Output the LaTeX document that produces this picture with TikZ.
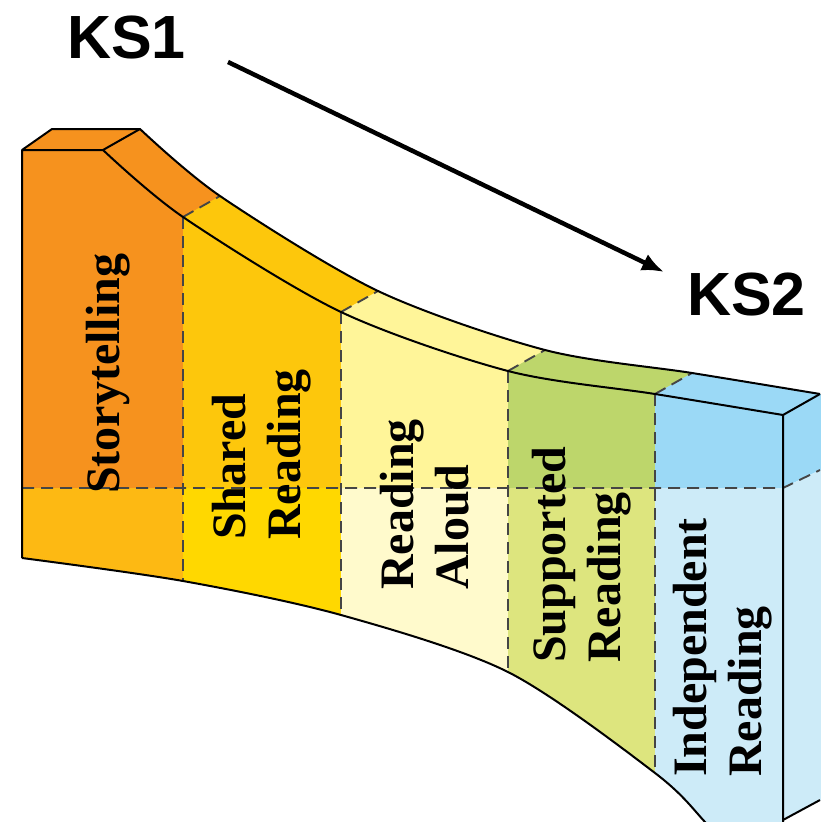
\documentclass[tikz,border=0pt]{standalone}
\usepackage{fontspec}
\setmainfont{Liberation Serif}
\newfontfamily\ksfont{Liberation Sans}
\usetikzlibrary{arrows.meta}
\definecolor{stA}{HTML}{F6921E}
\definecolor{stB}{HTML}{FDB913}
\definecolor{shA}{HTML}{FDC70C}
\definecolor{shB}{HTML}{FFD800}
\definecolor{raA}{HTML}{FFF599}
\definecolor{raB}{HTML}{FFFACC}
\definecolor{suA}{HTML}{BDD66B}
\definecolor{suB}{HTML}{DDE57E}
\definecolor{inA}{HTML}{9BD9F6}
\definecolor{inB}{HTML}{CDEBF8}
\definecolor{dashgray}{HTML}{454545}
\begin{document}
\begin{tikzpicture}[x=1pt,y=-1pt,
  edge/.style={line width=2pt,black,line join=round},
  divline/.style={line width=1.9pt,dashgray,dash pattern=on 12pt off 7pt},
  lab/.style={rotate=90,anchor=north west,inner sep=0pt,align=left,
    font=\fontsize{48}{55}\selectfont\bfseries},
  kslab/.style={anchor=base west,inner sep=0pt,
    font=\ksfont\fontsize{61}{61}\selectfont\bfseries}]
\useasboundingbox (0,0) rectangle (821,822);
\clip (0,0) rectangle (821,822);
\def\frontpath{(22,150) -- (103,150) -- plot[smooth] coordinates {(103,150) (183,217) (341,312) (508,371) (655,394) (783,415)} -- (783,870) -- (745,870) -- plot[smooth] coordinates {(745,870) (705,822) (655,773) (508,672) (341,615) (183,581) (22,558)} -- cycle}
\def\toppath{(22,150) -- (52,129) -- (140,129) -- plot[smooth] coordinates {(140,129) (220,196) (378,291) (545,350) (692,373) (820,394)} -- (783,415) -- plot[smooth] coordinates {(783,415) (655,394) (508,371) (341,312) (183,217) (103,150)} -- cycle}
% front face columns
\begin{scope}
  \clip \frontpath;
  \fill[stA] (0,0) rectangle (183,488);
  \fill[stB] (0,488) rectangle (183,900);
  \fill[shA] (183,0) rectangle (341,488);
  \fill[shB] (183,488) rectangle (341,900);
  \fill[raA] (341,0) rectangle (508,488);
  \fill[raB] (341,488) rectangle (508,900);
  \fill[suA] (508,0) rectangle (655,488);
  \fill[suB] (508,488) rectangle (655,900);
  \fill[inA] (655,0) rectangle (790,488);
  \fill[inB] (655,488) rectangle (790,900);
\end{scope}
% top face columns
\begin{scope}
  \clip \toppath;
  \fill[stA] (0,0) rectangle (900,900);
  \fill[shA] (72,280) -- (331,133) -- (900,-100) -- (900,900) -- cycle;
  \fill[raA] (230,375) -- (489,228) -- (900,-100) -- (900,900) -- cycle;
  \fill[suA] (397,434) -- (656,287) -- (900,-100) -- (900,900) -- cycle;
  \fill[inA] (544,457) -- (803,310) -- (900,-100) -- (900,900) -- cycle;
\end{scope}
% right face
\fill[inA] (783,415) -- (820,394) -- (822,394) -- (822,470) -- (820,470) -- (783,488) -- cycle;
\fill[inB] (783,488) -- (820,470) -- (822,470) -- (822,800) -- (820,800) -- (783,820) -- cycle;
% dashed dividers
\coordinate (f1) at (183,217); \coordinate (b1) at (220,196); \coordinate (g1) at (183,581);
\coordinate (f2) at (341,312); \coordinate (b2) at (378,291); \coordinate (g2) at (341,615);
\coordinate (f3) at (508,371); \coordinate (b3) at (545,350); \coordinate (g3) at (508,672);
\coordinate (f4) at (655,394); \coordinate (b4) at (692,373); \coordinate (g4) at (655,773);
\foreach \i in {1,2,3,4} {
  \draw[divline] (f\i) -- (g\i);
  \draw[divline] (f\i) -- (b\i);
}
\coordinate (hl) at (22,488); \coordinate (hr) at (783,488); \coordinate (hb) at (820,470);
\draw[divline] (hl) -- (hr) -- (hb);
% solid outlines
\draw[edge] (22,558) -- (22,150) -- (103,150) -- plot[smooth] coordinates {(103,150) (183,217) (341,312) (508,371) (655,394) (783,415)} -- (783,822);
\draw[edge] (22,150) -- (52,129) -- (140,129) -- plot[smooth] coordinates {(140,129) (220,196) (378,291) (545,350) (692,373) (820,394)};
\draw[edge] (103,150) -- (140,129);
\draw[edge] (783,415) -- (820,394);
\draw[edge] (783,820) -- (820,800);
\draw[edge] plot[smooth] coordinates {(745,870) (705,822) (655,773) (508,672) (341,615) (183,581) (22,558)};
% labels
\node[lab] (t1) at (86,494) {Storytelling};
\node[lab] (t2) at (212,540) {Shared\\Reading};
\node[lab] (t3) at (380,590) {Reading\\Aloud};
\node[lab] (t4) at (532,663) {Supported\\Reading};
\node[lab] (t5) at (673,777) {Independent\\Reading};
% KS labels and arrow
\node[kslab] (ks1) at (67,58) {KS1};
\node[kslab] (ks2) at (687,315) {KS2};
\coordinate (a1) at (228,62);
\coordinate (a2) at (664,272);
\draw[line width=4.5pt,-{Latex[length=22pt,width=18pt]}] (a1) -- (a2);
\end{tikzpicture}
\end{document}
